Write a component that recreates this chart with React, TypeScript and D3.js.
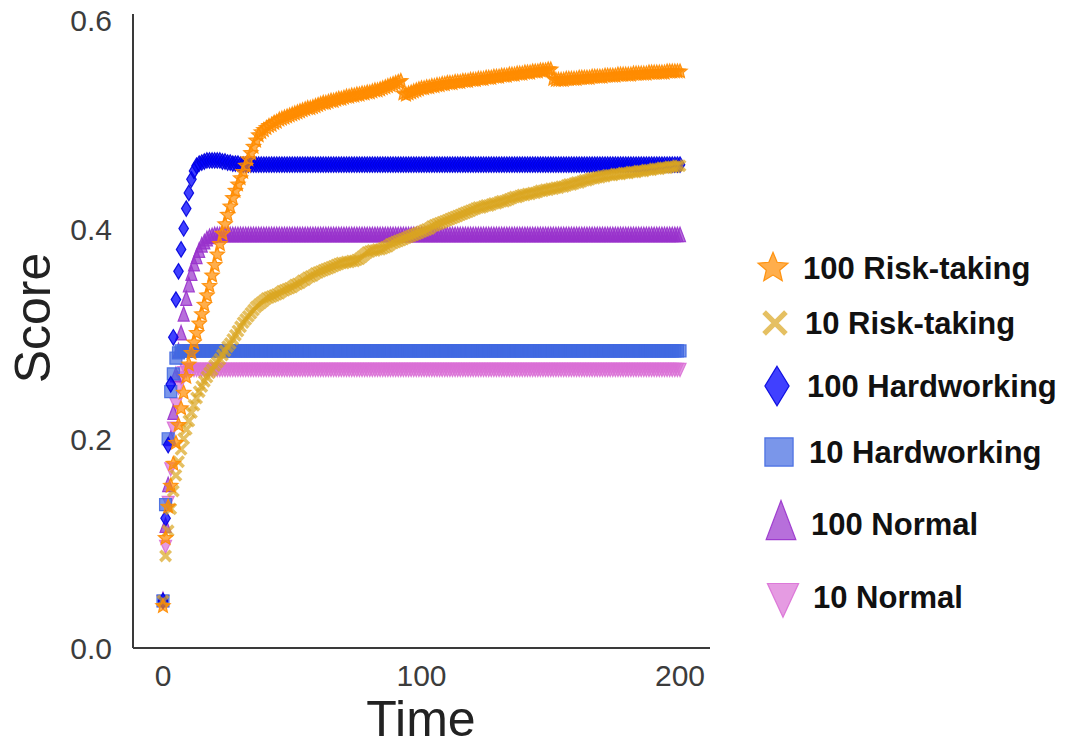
import React from "react";
import * as d3 from "d3";

// ---------- data (score per time step, t = 0..200) ----------
const risk100 = [
  .040,.105,.135,.155,.176,.196,.213,.229,.244,.259,.271,.282,.292,.301,.310,.319,.328,.337,.346,.356,
  .366,.376,.386,.396,.405,.414,.422,.430,.437,.443,.449,.455,.461,.467,.473,.479,.485,.490,.493,.495,
  .497,.499,.500,.502,.503,.505,.506,.507,.508,.509,.510,.511,.512,.513,.514,.515,.516,.516,.517,.518,
  .519,.520,.521,.521,.522,.523,.523,.524,.525,.525,.526,.527,.527,.528,.528,.529,.529,.530,.530,.531,
  .531,.532,.533,.533,.534,.535,.536,.537,.538,.539,.540,.541,.542,.530,.529,.530,.531,.532,.533,.534,
  .535,.535,.536,.536,.537,.537,.538,.538,.539,.539,.540,.540,.540,.541,.541,.541,.542,.542,.542,.543,
  .543,.543,.544,.544,.544,.545,.545,.545,.546,.546,.546,.547,.547,.547,.548,.548,.548,.549,.549,.549,
  .550,.550,.550,.551,.551,.551,.552,.552,.552,.553,.553,.544,.543,.543,.543,.543,.544,.544,.544,.544,
  .544,.545,.545,.545,.545,.545,.546,.546,.546,.546,.546,.547,.547,.547,.547,.547,.548,.548,.548,.548,
  .548,.548,.549,.549,.549,.549,.549,.549,.550,.550,.550,.550,.550,.550,.550,.551,.551,.551,.551,.551,
  .551
];

const risk10 = [
  .045,.088,.112,.133,.150,.165,.178,.190,.200,.209,.217,.225,.232,.239,.245,.250,.255,.259,.263,.266,
  .270,.273,.276,.280,.284,.288,.291,.295,.299,.303,.307,.311,.314,.317,.320,.323,.326,.328,.330,.332,
  .334,.335,.336,.337,.338,.339,.341,.342,.343,.344,.345,.347,.348,.349,.351,.352,.354,.355,.356,.358,
  .359,.360,.361,.362,.363,.364,.365,.366,.367,.368,.368,.369,.369,.370,.370,.371,.372,.374,.376,.378,
  .379,.380,.380,.381,.381,.382,.383,.384,.386,.387,.388,.389,.390,.391,.392,.393,.394,.395,.396,.397,
  .398,.399,.400,.401,.403,.404,.405,.406,.407,.408,.409,.410,.411,.412,.413,.414,.415,.416,.417,.418,
  .419,.420,.421,.421,.422,.423,.423,.424,.425,.425,.426,.427,.427,.428,.429,.430,.431,.431,.432,.433,
  .433,.434,.434,.435,.435,.436,.437,.437,.438,.438,.439,.439,.440,.440,.441,.441,.442,.443,.443,.444,
  .445,.445,.446,.447,.447,.448,.449,.449,.450,.450,.451,.451,.452,.452,.452,.453,.453,.453,.454,.454,
  .454,.455,.455,.455,.456,.456,.456,.457,.457,.457,.458,.458,.458,.459,.459,.459,.460,.460,.460,.461,
  .461
];

const hard100 = [
  .045,.124,.194,.252,.297,.333,.360,.381,.401,.420,.435,.448,.456,.461,.463,.464,.465,.466,.466,.466,
  .466,.466,.466,.465,.465,.464,.464,.463,.463,.463,.462,.462,.462,.462,.462,.462,.462,.462,.462,.462,
  .462,.462,.462,.462,.462,.462,.462,.462,.462,.462,.462,.462,.462,.462,.462,.462,.462,.462,.462,.462,
  .462,.462,.462,.462,.462,.462,.462,.462,.462,.462,.462,.462,.462,.462,.462,.462,.462,.462,.462,.462,
  .462,.462,.462,.462,.462,.462,.462,.462,.462,.462,.462,.462,.462,.462,.462,.462,.462,.462,.462,.462,
  .462,.462,.462,.462,.462,.462,.462,.462,.462,.462,.462,.462,.462,.462,.462,.462,.462,.462,.462,.462,
  .462,.462,.462,.462,.462,.462,.462,.462,.462,.462,.462,.462,.462,.462,.462,.462,.462,.462,.462,.462,
  .462,.462,.462,.462,.462,.462,.462,.462,.462,.462,.462,.462,.462,.462,.462,.462,.462,.462,.462,.462,
  .462,.462,.462,.462,.462,.462,.462,.462,.462,.462,.462,.462,.462,.462,.462,.462,.462,.462,.462,.462,
  .462,.462,.462,.462,.462,.462,.462,.462,.462,.462,.462,.462,.462,.462,.462,.462,.462,.462,.462,.462,
  .462
];

const hard10 = [
  .045,.137,.200,.245,.262,.277,.282,.284,.284,.284,.284,.284,.284,.284,.284,.284,.284,.284,.284,.284,
  .284,.284,.284,.284,.284,.284,.284,.284,.284,.284,.284,.284,.284,.284,.284,.284,.284,.284,.284,.284,
  .284,.284,.284,.284,.284,.284,.284,.284,.284,.284,.284,.284,.284,.284,.284,.284,.284,.284,.284,.284,
  .284,.284,.284,.284,.284,.284,.284,.284,.284,.284,.284,.284,.284,.284,.284,.284,.284,.284,.284,.284,
  .284,.284,.284,.284,.284,.284,.284,.284,.284,.284,.284,.284,.284,.284,.284,.284,.284,.284,.284,.284,
  .284,.284,.284,.284,.284,.284,.284,.284,.284,.284,.284,.284,.284,.284,.284,.284,.284,.284,.284,.284,
  .284,.284,.284,.284,.284,.284,.284,.284,.284,.284,.284,.284,.284,.284,.284,.284,.284,.284,.284,.284,
  .284,.284,.284,.284,.284,.284,.284,.284,.284,.284,.284,.284,.284,.284,.284,.284,.284,.284,.284,.284,
  .284,.284,.284,.284,.284,.284,.284,.284,.284,.284,.284,.284,.284,.284,.284,.284,.284,.284,.284,.284,
  .284,.284,.284,.284,.284,.284,.284,.284,.284,.284,.284,.284,.284,.284,.284,.284,.284,.284,.284,.284,
  .284
];

const normal100 = [
  .045,.116,.155,.199,.224,.260,.283,.300,.318,.333,.346,.357,.366,.373,.379,.384,.387,.390,.392,.393,
  .394,.394,.394,.394,.394,.394,.394,.394,.394,.394,.394,.394,.394,.394,.394,.394,.394,.394,.394,.394,
  .394,.394,.394,.394,.394,.394,.394,.394,.394,.394,.394,.394,.394,.394,.394,.394,.394,.394,.394,.394,
  .394,.394,.394,.394,.394,.394,.394,.394,.394,.394,.394,.394,.394,.394,.394,.394,.394,.394,.394,.394,
  .394,.394,.394,.394,.394,.394,.394,.394,.394,.394,.394,.394,.394,.394,.394,.394,.394,.394,.394,.394,
  .394,.394,.394,.394,.394,.394,.394,.394,.394,.394,.394,.394,.394,.394,.394,.394,.394,.394,.394,.394,
  .394,.394,.394,.394,.394,.394,.394,.394,.394,.394,.394,.394,.394,.394,.394,.394,.394,.394,.394,.394,
  .394,.394,.394,.394,.394,.394,.394,.394,.394,.394,.394,.394,.394,.394,.394,.394,.394,.394,.394,.394,
  .394,.394,.394,.394,.394,.394,.394,.394,.394,.394,.394,.394,.394,.394,.394,.394,.394,.394,.394,.394,
  .394,.394,.394,.394,.394,.394,.394,.394,.394,.394,.394,.394,.394,.394,.394,.394,.394,.394,.394,.394,
  .394
];

const normal10 = [
  .045,.098,.140,.172,.211,.234,.250,.259,.264,.266,.267,.267,.267,.267,.267,.267,.267,.267,.267,.267,
  .267,.267,.267,.267,.267,.267,.267,.267,.267,.267,.267,.267,.267,.267,.267,.267,.267,.267,.267,.267,
  .267,.267,.267,.267,.267,.267,.267,.267,.267,.267,.267,.267,.267,.267,.267,.267,.267,.267,.267,.267,
  .267,.267,.267,.267,.267,.267,.267,.267,.267,.267,.267,.267,.267,.267,.267,.267,.267,.267,.267,.267,
  .267,.267,.267,.267,.267,.267,.267,.267,.267,.267,.267,.267,.267,.267,.267,.267,.267,.267,.267,.267,
  .267,.267,.267,.267,.267,.267,.267,.267,.267,.267,.267,.267,.267,.267,.267,.267,.267,.267,.267,.267,
  .267,.267,.267,.267,.267,.267,.267,.267,.267,.267,.267,.267,.267,.267,.267,.267,.267,.267,.267,.267,
  .267,.267,.267,.267,.267,.267,.267,.267,.267,.267,.267,.267,.267,.267,.267,.267,.267,.267,.267,.267,
  .267,.267,.267,.267,.267,.267,.267,.267,.267,.267,.267,.267,.267,.267,.267,.267,.267,.267,.267,.267,
  .267,.267,.267,.267,.267,.267,.267,.267,.267,.267,.267,.267,.267,.267,.267,.267,.267,.267,.267,.267,
  .267
];

const seriesNames = ["100 Risk-taking", "10 Risk-taking", "100 Hardworking", "10 Hardworking", "100 Normal", "10 Normal"];
const seriesValues = [risk100, risk10, hard100, hard10, normal100, normal10];
const xTicks = [0, 100, 200];
const yTicks = [0, 0.2, 0.4, 0.6];

// ---------- style ----------
const colors = ["#ff8c00", "#daa520", "#0000ff", "#4169e1", "#9932cc", "#da70d6"];
const edgeColors = ["#ff8c00", "#daa520", "#0000dd", "#4169e1", "#9932cc", "#da70d6"];
const shapes = ["star", "x", "diamond", "square", "tri", "tridown"];
const legendRowY = [268, 323, 386, 452, 524, 597];
const legendScale = [2.1, 2.1, 2.55, 2.35, 2.7, 2.6];

const W = 1065, H = 746;
const FONT = "'Liberation Sans', Arial, Helvetica, sans-serif";

function markerPath(shape: string, k: number): string {
  switch (shape) {
    case "star": {
      const R = 7.5 * k, r = R * 0.45;
      let p = "";
      for (let i = 0; i < 10; i++) {
        const a = -Math.PI / 2 + (i * Math.PI) / 5;
        const rad = i % 2 ? r : R;
        p += (i ? "L" : "M") + (rad * Math.cos(a)).toFixed(2) + "," + (rad * Math.sin(a)).toFixed(2);
      }
      return p + "Z";
    }
    case "x": {
      const s = 5.2 * k;
      return `M${-s},${-s}L${s},${s}M${-s},${s}L${s},${-s}`;
    }
    case "diamond": {
      const w = 9.5 * k, h = 15.5 * k;
      return `M0,${-h / 2}L${w / 2},0L0,${h / 2}L${-w / 2},0Z`;
    }
    case "square": {
      const s = 12 * k;
      return `M${-s / 2},${-s / 2}h${s}v${s}h${-s}Z`;
    }
    case "tri": {
      const w = 11 * k, h = 14.5 * k;
      return `M0,${-h * 0.6}L${w / 2},${h * 0.4}L${-w / 2},${h * 0.4}Z`;
    }
    case "tridown": {
      const w = 12 * k, h = 13 * k;
      return `M0,${h * 0.6}L${w / 2},${-h * 0.4}L${-w / 2},${-h * 0.4}Z`;
    }
  }
  return "";
}

function Marker({ shape, color, edge, x, y, k }: { shape: string; color: string; edge: string; x: number; y: number; k: number }) {
  const d = markerPath(shape, k);
  if (shape === "x") {
    return (
      <path d={d} transform={`translate(${x},${y})`} fill="none" stroke={color}
        strokeOpacity={0.7} strokeWidth={3.6 * Math.sqrt(k)} />
    );
  }
  const fo = shape === "diamond" ? 0.75 : 0.7;
  return (
    <path d={d} transform={`translate(${x},${y})`} fill={color} fillOpacity={fo}
      stroke={edge} strokeOpacity={0.9} strokeWidth={1.2} />
  );
}

export default function App() {
  const x = d3.scaleLinear().domain([-11.6, 211.6]).range([133, 710]);
  const y = d3.scaleLinear().domain([0, 0.606]).range([648, 14]);
  const fmt = d3.format(".1f");
  // draw last legend item first so that risk-taking lies on top
  const order = [5, 4, 3, 2, 1, 0];

  return (
    <svg width={W} height={H} style={{ position: "absolute", left: 0, top: 0, background: "#fff" }}
      fontFamily={FONT}>
      <rect width={W} height={H} fill="#fff" />
      {order.map((si) => (
        <g key={si}>
          {seriesValues[si].map((v, t) => (
            <Marker key={t} shape={shapes[si]} color={colors[si]} edge={edgeColors[si]} x={x(t)} y={y(v)} k={1} />
          ))}
        </g>
      ))}
      {/* axes */}
      <line x1={x.range()[0]} x2={x.range()[0]} y1={y.range()[0]} y2={y.range()[1]} stroke="#3a3a3a" strokeWidth={2} />
      <line x1={x.range()[0]} x2={x.range()[1]} y1={y.range()[0]} y2={y.range()[0]} stroke="#3a3a3a" strokeWidth={2} />
      {yTicks.map((v) => (
        <text key={v} x={112} y={y(v)} dy="0.36em" textAnchor="end" fontSize={30} fill="#3c3c3c">{fmt(v)}</text>
      ))}
      {xTicks.map((v) => (
        <text key={v} x={x(v)} y={686} textAnchor="middle" fontSize={30} fill="#3c3c3c">{v}</text>
      ))}
      <text transform={`translate(50,318) rotate(-90)`} textAnchor="middle" fontSize={50} fill="#222">Score</text>
      <text x={421} y={736} textAnchor="middle" fontSize={50} fill="#222">Time</text>
      {/* legend */}
      {seriesNames.map((name, i) => (
        <g key={name}>
          <Marker shape={shapes[i]} color={colors[i]} edge={edgeColors[i]} x={773 + i * 2} y={legendRowY[i]} k={legendScale[i]} />
          <text x={803 + i * 2} y={legendRowY[i] + 11} fontSize={31} fontWeight="bold" fill="#111">{name}</text>
        </g>
      ))}
    </svg>
  );
}
